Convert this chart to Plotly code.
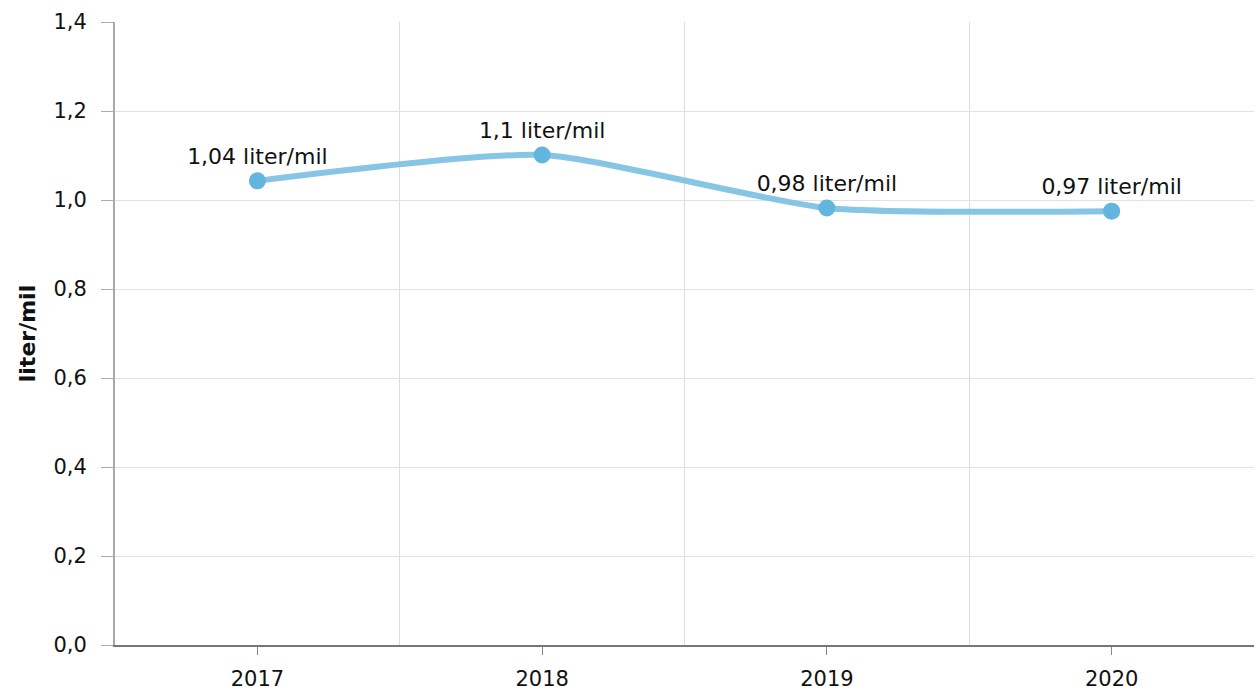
import plotly.graph_objects as go

years = ["2017", "2018", "2019", "2020"]
values = [1.043, 1.101, 0.982, 0.975]
labels = ["1,04 liter/mil", "1,1 liter/mil", "0,98 liter/mil", "0,97 liter/mil"]
y_ticks = [0.0, 0.2, 0.4, 0.6, 0.8, 1.0, 1.2, 1.4]

xpos = list(range(len(years)))
bounds = [i - 0.5 for i in range(len(years) + 1)]

font = "DejaVu Sans, Verdana, sans-serif"

fig = go.Figure()
fig.add_trace(go.Scatter(
    x=xpos, y=values, mode="lines+markers+text",
    line=dict(color="#86c5e4", width=6, shape="spline", smoothing=0.6),
    marker=dict(color="#62b5dc", size=17),
    text=labels, textposition="top center",
    textfont=dict(family=font, size=22, color="#111111"),
    cliponaxis=False, hoverinfo="skip",
))

fig.update_layout(
    width=1256, height=695,
    margin=dict(l=115, r=2, t=22, b=50),
    paper_bgcolor="white", plot_bgcolor="white",
    showlegend=False,
    separators=", ",
    font=dict(family=font, size=22, color="#111111"),
    xaxis=dict(
        range=[-0.5, 3.5], tickmode="array", tickvals=xpos, ticktext=years,
        showgrid=False, zeroline=False,
        ticks="outside", ticklen=8, tickcolor="#888888", tickwidth=1,
        showline=True, linecolor="#777777", linewidth=1.5,
        minor=dict(tickmode="array", tickvals=bounds, showgrid=True,
                   gridcolor="#dddddd", gridwidth=1, ticklen=0),
        tickfont=dict(size=21),
        ticklabelstandoff=6,
    ),
    yaxis=dict(
        range=[0, 1.4], tickmode="array", tickvals=y_ticks, tickformat=".1f",
        showgrid=True, gridcolor="#e2e2e2", gridwidth=1, zeroline=False,
        ticks="outside", ticklen=12, tickcolor="#aaaaaa",
        showline=True, linecolor="#aaaaaa", linewidth=2,
        tickfont=dict(size=21),
        ticklabelstandoff=10,
        title=dict(text="<b>liter/mil</b>", font=dict(size=22), standoff=12),
    ),
)

fig.write_html("out.html", config={"displayModeBar": False},
               post_script="document.body.style.margin='0';document.body.style.overflow='hidden';")
